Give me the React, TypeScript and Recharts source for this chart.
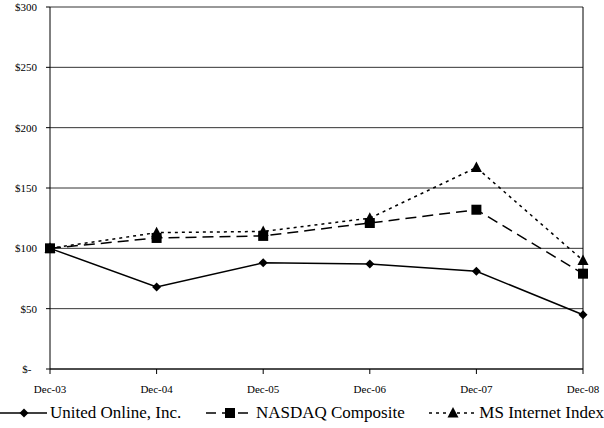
import React from 'react';
import { LineChart, Line, XAxis, YAxis, CartesianGrid, Legend } from 'recharts';

const categories = ['Dec-03', 'Dec-04', 'Dec-05', 'Dec-06', 'Dec-07', 'Dec-08'];
const unitedOnline = [100, 68, 88, 87, 81, 45];
const nasdaq = [100, 108.6, 110.3, 121, 132, 79];
const msInternet = [100, 113, 114, 125, 167, 90];
const yTicks = [0, 50, 100, 150, 200, 250, 300];

const data = categories.map((c, i) => ({
  name: c,
  united: unitedOnline[i],
  nasdaq: nasdaq[i],
  ms: msInternet[i],
}));

const FONT = 'Liberation Serif';

const Diamond = (props: any) => {
  const { cx, cy } = props;
  if (cx == null || cy == null) return null;
  const r = 4.5;
  return <path d={`M${cx},${cy - r}L${cx + r},${cy}L${cx},${cy + r}L${cx - r},${cy}Z`} fill="#000" />;
};
const Square = (props: any) => {
  const { cx, cy } = props;
  if (cx == null || cy == null) return null;
  const s = 5;
  return <rect x={cx - s} y={cy - s} width={2 * s} height={2 * s} fill="#000" />;
};
const Triangle = (props: any) => {
  const { cx, cy } = props;
  if (cx == null || cy == null) return null;
  const h = 6;
  return <path d={`M${cx},${cy - h}L${cx + 5.5},${cy + h * 0.75}L${cx - 5.5},${cy + h * 0.75}Z`} fill="#000" />;
};

const legendItems = [
  { label: 'United Online, Inc.', dash: undefined, marker: 'diamond' },
  { label: 'NASDAQ Composite', dash: '10 6', marker: 'square' },
  { label: 'MS Internet Index', dash: '3 4', marker: 'triangle' },
];

const renderLegend = () => (
  <div style={{ display: 'flex', justifyContent: 'space-between', alignItems: 'center', fontFamily: FONT, fontSize: 17, color: '#000', width: 604 }}>
    {legendItems.map((it) => (
      <div key={it.label} style={{ display: 'flex', alignItems: 'center' }}>
        <svg width={47} height={14} style={{ marginRight: 3 }}>
          <line x1={0} y1={7} x2={47} y2={7} stroke="#000" strokeWidth={1.5} strokeDasharray={it.dash} />
          {it.marker === 'diamond' && <Diamond cx={24} cy={7} />}
          {it.marker === 'square' && <Square cx={24} cy={7} />}
          {it.marker === 'triangle' && <Triangle cx={24} cy={7} />}
        </svg>
        <span>{it.label}</span>
      </div>
    ))}
  </div>
);

export default function App() {
  return (
    <div style={{ position: 'absolute', left: 0, top: 0, background: '#fff', fontFamily: FONT }}>
      <LineChart width={604} height={428} data={data} margin={{ top: 7, right: 20, left: 0, bottom: 0 }} style={{ fontFamily: FONT }}>
        <CartesianGrid horizontal vertical={false} stroke="#333" strokeWidth={1} />
        <XAxis
          dataKey="name"
          axisLine={{ stroke: '#000' }}
          tickLine={{ stroke: '#000' }}
          tickSize={5}
          tickMargin={11}
          tick={{ fontFamily: FONT, fontSize: 11, fill: '#000' }}
          height={39}
          interval={0}
        />
        <YAxis
          domain={[0, 300]}
          ticks={yTicks}
          tickFormatter={(v: number) => (v === 0 ? '$-\u00a0\u00a0' : `$${v}`)}
          axisLine={{ stroke: '#000' }}
          tickLine={{ stroke: '#000' }}
          tickSize={4}
          tickMargin={9}
          width={50}
          tick={{ fontFamily: FONT, fontSize: 11, fill: '#000' }}
        />
        <YAxis yAxisId="r" orientation="right" domain={[0, 300]} tick={false} tickLine={false} axisLine={{ stroke: '#000' }} width={1} />
        <Legend verticalAlign="bottom" content={renderLegend} wrapperStyle={{ left: 0, bottom: 5 }} />
        <Line dataKey="ms" stroke="#000" strokeWidth={1.5} strokeDasharray="3 4" dot={<Triangle />} isAnimationActive={false} />
        <Line dataKey="nasdaq" stroke="#000" strokeWidth={1.5} strokeDasharray="11 6" dot={<Square />} isAnimationActive={false} />
        <Line dataKey="united" stroke="#000" strokeWidth={1.5} dot={<Diamond />} isAnimationActive={false} />
      </LineChart>
    </div>
  );
}
